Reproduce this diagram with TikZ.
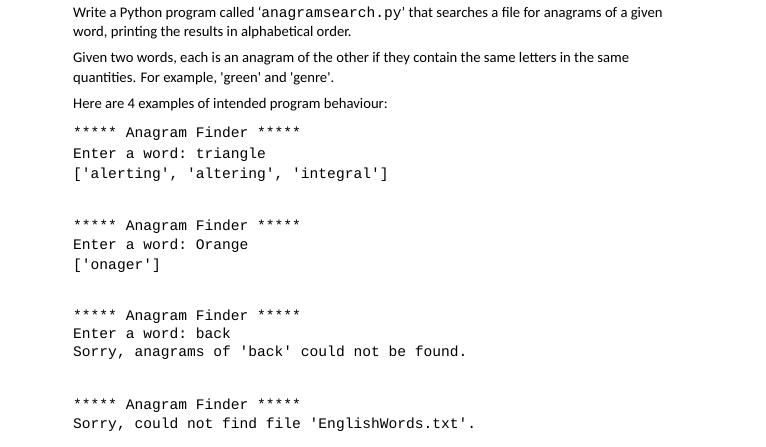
\documentclass[tikz,border=0pt]{standalone}
\usepackage{fontspec}
\setmainfont{Carlito}
\setmonofont{Liberation Mono}
\begin{document}
\begin{tikzpicture}[x=1pt,y=-1pt,
  tx/.style={anchor=base west,inner sep=0pt,font=\fontsize{14.65}{17}\selectfont},
  mn/.style={anchor=base west,inner sep=0pt,font=\fontsize{14.6}{17}\ttfamily}]
\useasboundingbox[fill=white] (0,0) rectangle (766,447);
\node[tx] (l1) at (73,17) {Write a Python program called `{\fontsize{14.6}{17}\ttfamily anagramsearch.py}' that searches a file for anagrams of a given};
\node[tx] (l2) at (73,36) {word, printing the results in alphabetical order.};
\node[tx] (l3) at (73,62) {Given two words, each is an anagram of the other if they contain the same letters in the same};
\node[tx] (l4) at (73,82) {quantities. For example, \textquotesingle green\textquotesingle{} and \textquotesingle genre\textquotesingle.};
\node[tx] (l5) at (73,108) {Here are 4 examples of intended program behaviour:};
\node[mn] (m1) at (73,137) {***** Anagram Finder *****};
\node[mn] (m2) at (73,158) {Enter a word: triangle};
\node[mn] (m3) at (73,178) {['alerting', 'altering', 'integral']};
\node[mn] (m4) at (73,230) {***** Anagram Finder *****};
\node[mn] (m5) at (73,249) {Enter a word: Orange};
\node[mn] (m6) at (73,269) {['onager']};
\node[mn] (m7) at (73,320) {***** Anagram Finder *****};
\node[mn] (m8) at (73,338) {Enter a word: back};
\node[mn] (m9) at (73,356) {Sorry, anagrams of 'back' could not be found.};
\node[mn] (m10) at (73,409) {***** Anagram Finder *****};
\node[mn] (m11) at (73,428) {Sorry, could not find file 'EnglishWords.txt'.};
\end{tikzpicture}
\end{document}
